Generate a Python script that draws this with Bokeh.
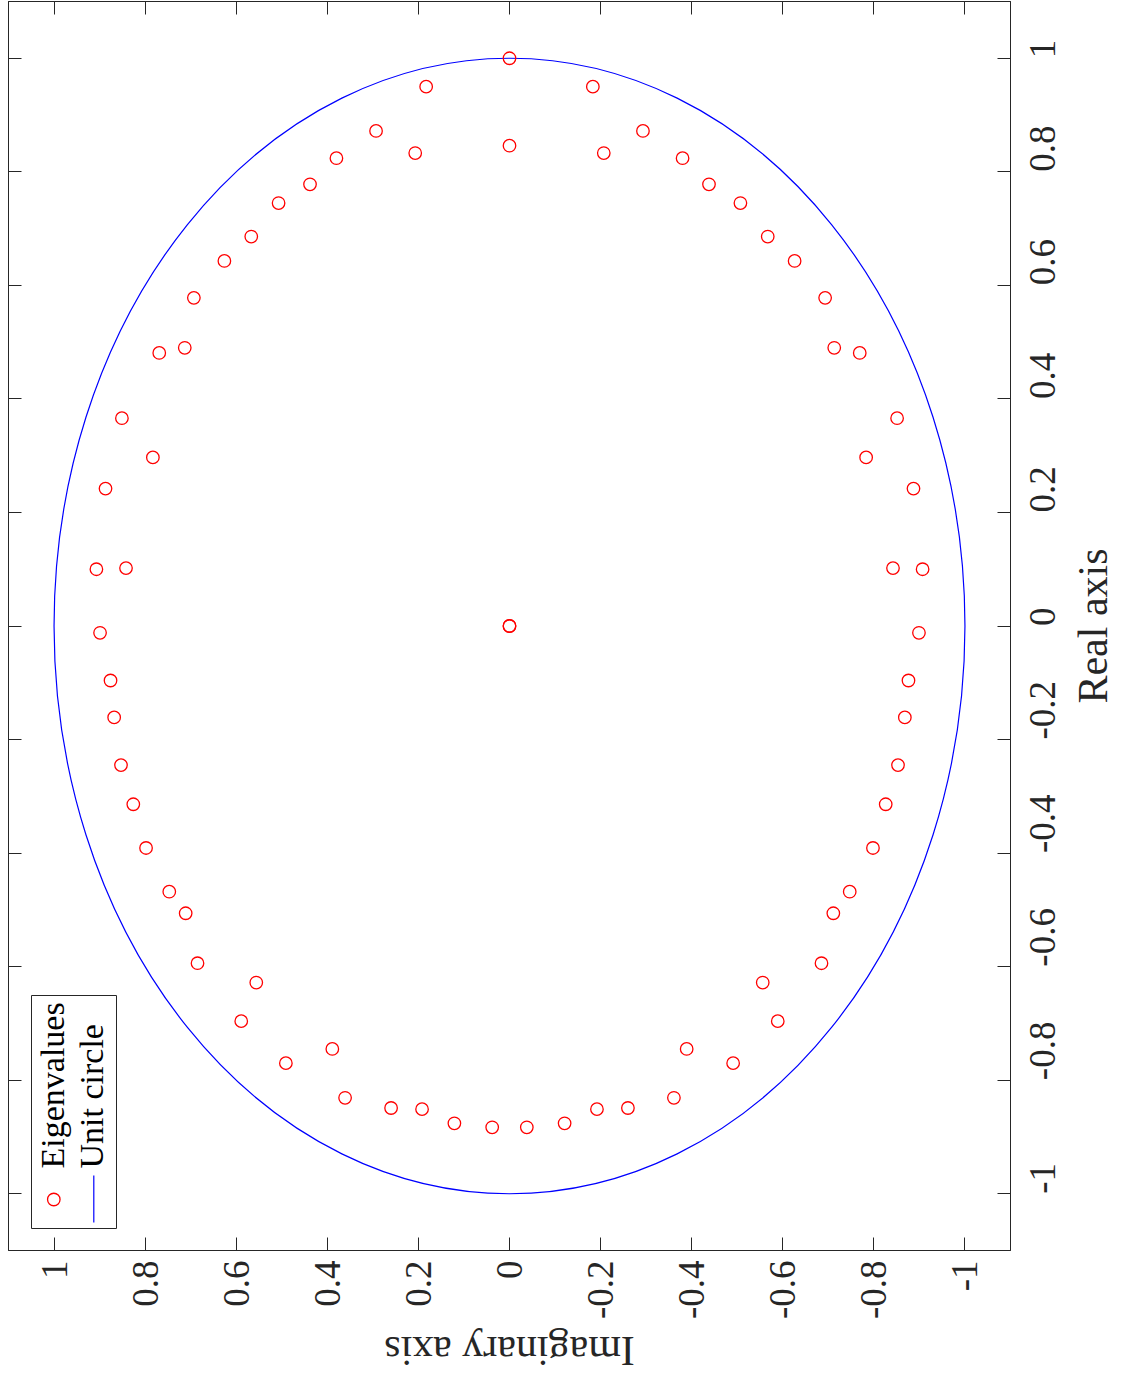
from math import pi
from bokeh.plotting import figure
from bokeh.models import Range1d, LinearAxis, FixedTicker, Label
from bokeh.embed import file_html
from bokeh.resources import INLINE

# eigenvalues (real part, imaginary part)
eig_real = [1.0, 0.846, 0.0, 0.0,
            0.950, 0.833, 0.872, 0.824, 0.778, 0.745, 0.686, 0.643, 0.578,
            0.490, 0.481, 0.366, 0.297, 0.242, 0.100, 0.102, -0.012, -0.096,
            -0.161, -0.245, -0.314, -0.391, -0.468, -0.506, -0.594, -0.628,
            -0.696, -0.745, -0.770, -0.831, -0.849, -0.851, -0.876, -0.883,
            0.950, 0.833, 0.872, 0.824, 0.778, 0.745, 0.686, 0.643, 0.578,
            0.490, 0.481, 0.366, 0.297, 0.242, 0.100, 0.102, -0.012, -0.096,
            -0.161, -0.245, -0.314, -0.391, -0.468, -0.506, -0.594, -0.628,
            -0.696, -0.745, -0.770, -0.831, -0.849, -0.851, -0.876, -0.883]
eig_imag = [0.0, 0.0, 0.0, 0.0,
            0.183, 0.207, 0.293, 0.380, 0.438, 0.507, 0.567, 0.626, 0.693,
            0.713, 0.769, 0.851, 0.783, 0.887, 0.907, 0.842, 0.899, 0.876,
            0.868, 0.853, 0.826, 0.798, 0.747, 0.711, 0.685, 0.556, 0.589,
            0.389, 0.491, 0.361, 0.260, 0.192, 0.121, 0.038,
            -0.183, -0.207, -0.293, -0.380, -0.438, -0.507, -0.567, -0.626, -0.693,
            -0.713, -0.769, -0.851, -0.783, -0.887, -0.907, -0.842, -0.899, -0.876,
            -0.868, -0.853, -0.826, -0.798, -0.747, -0.711, -0.685, -0.556, -0.589,
            -0.389, -0.491, -0.361, -0.260, -0.192, -0.121, -0.038]

unit_radius = 1.0

tick_values = [-1, -0.8, -0.6, -0.4, -0.2, 0, 0.2, 0.4, 0.6, 0.8, 1]
tick_labels = ['-1', '-0.8', '-0.6', '-0.4', '-0.2', '0', '0.2', '0.4', '0.6', '0.8', '1']

AX = '#262626'
FONT = 'Liberation Serif'
LEFT, TOP = 8, 1
FRAME_W, FRAME_H = 1002, 1249

# the whole figure is turned a quarter turn: imaginary part runs horizontally
# (reversed), real part runs vertically
p = figure(frame_width=FRAME_W, frame_height=FRAME_H,
           x_range=Range1d(1.1, -1.1), y_range=Range1d(-1.1, 1.1),
           x_axis_location='below', y_axis_location='right',
           min_border_left=LEFT, min_border_top=TOP,
           min_border_right=118, min_border_bottom=132,
           output_backend='svg', toolbar_location=None)
p.grid.visible = False
p.outline_line_color = AX
p.outline_line_width = 1
p.background_fill_color = 'white'
p.border_fill_color = 'white'


def style_axis(ax, labels=True, standoff=10):
    ax.ticker = FixedTicker(ticks=tick_values)
    ax.major_tick_in = 13
    ax.major_tick_out = 0
    ax.minor_tick_in = 0
    ax.minor_tick_out = 0
    ax.axis_line_color = AX
    ax.major_tick_line_color = AX
    ax.major_tick_line_width = 1
    if labels:
        ax.major_label_overrides = dict(zip(tick_values, tick_labels))
        ax.major_label_orientation = pi / 2
        ax.major_label_text_font = FONT
        ax.major_label_text_font_size = '37px'
        ax.major_label_text_color = AX
        ax.major_label_standoff = standoff
    else:
        ax.major_label_text_color = None
        ax.major_label_text_font_size = '1px'
        ax.major_label_standoff = 0
        ax.axis_label_standoff = 0


style_axis(p.xaxis[0], standoff=10)
style_axis(p.yaxis[0], standoff=32)
left_ax = LinearAxis()
top_ax = LinearAxis()
style_axis(left_ax, labels=False)
style_axis(top_ax, labels=False)
p.add_layout(left_ax, 'left')
p.add_layout(top_ax, 'above')

x0, x1 = p.x_range.start, p.x_range.end
y0, y1 = p.y_range.start, p.y_range.end


def px_x(px):
    return x0 + (px - LEFT) * (x1 - x0) / FRAME_W


def px_y(py):
    return y1 - (py - TOP) * (y1 - y0) / FRAME_H


# unit circle (appears as an ellipse because the axes are not equal)
p.ellipse(x=[0], y=[0], width=[2 * unit_radius], height=[2 * unit_radius],
          fill_color=None, line_color='#0000ff', line_width=1.2)

p.scatter(eig_imag, eig_real, marker='circle', size=12.5,
          fill_color=None, line_color='#ff0000', line_width=1.3)

# legend, turned like the rest
p.quad(left=[px_x(31)], right=[px_x(116)], top=[px_y(995)], bottom=[px_y(1228)],
       fill_color='white', line_color=AX, line_width=1)
p.scatter([px_x(53.3)], [px_y(1199)], marker='circle', size=12.5,
          fill_color=None, line_color='#ff0000', line_width=1.3)
p.line([px_x(93.3), px_x(93.3)], [px_y(1175), px_y(1222)],
       line_color='#0000ff', line_width=1.2)
for txt, bx in [('Eigenvalues', 52), ('Unit circle', 91)]:
    p.add_layout(Label(x=px_x(bx), y=px_y(1168), text=txt, angle=pi / 2,
                       text_align='left', text_baseline='middle',
                       text_font=FONT, text_font_size='34px', text_color='black'))

# axis titles sit outside the frame, so they go into the side panels
p.add_layout(Label(x=px_x(1092), y=0, text='Real axis', angle=pi / 2,
                   text_align='center', text_baseline='middle',
                   text_font=FONT, text_font_size='42px', text_color=AX), 'right')
p.add_layout(Label(x=0, y=px_y(1350), text='Imaginary axis', angle=pi,
                   text_align='center', text_baseline='middle',
                   text_font=FONT, text_font_size='42px', text_color=AX), 'below')

open("out.html", "w").write(file_html(p, INLINE))
